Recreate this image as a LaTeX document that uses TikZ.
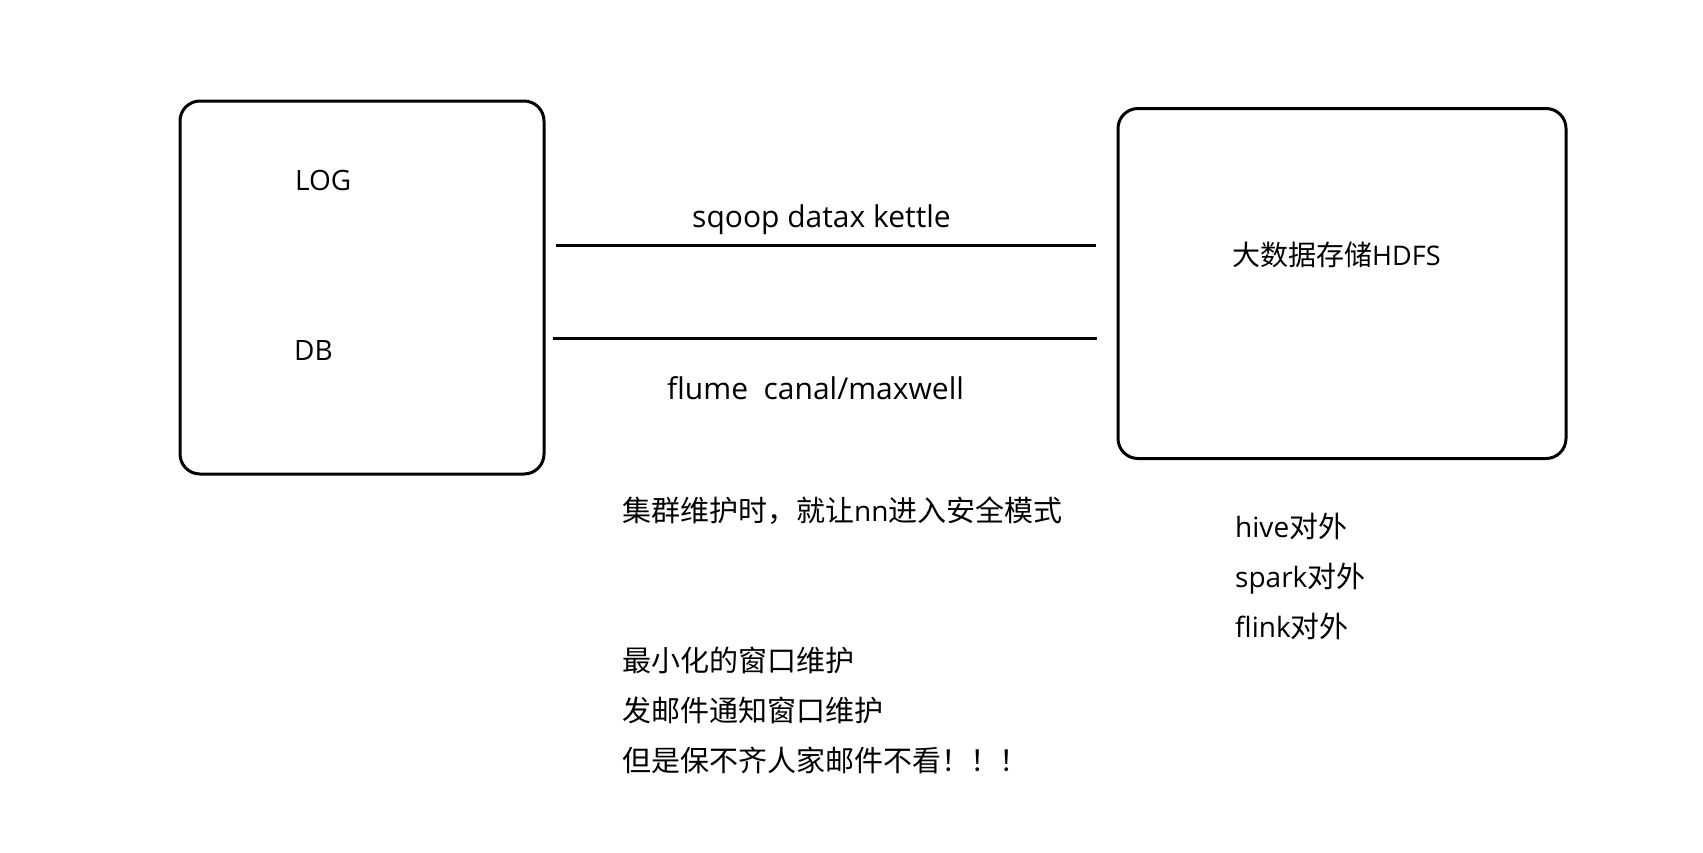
\documentclass[tikz,border=0pt]{standalone}
\usepackage{fontspec}
\setmainfont{Open Sans}
\newfontfamily\cjkfont{Noto Sans CJK SC}
\newcommand{\zh}[1]{{\cjkfont #1}}
\begin{document}
\begin{tikzpicture}[x=1pt,y=-1pt,
  box/.style={draw, line width=3pt, rounded corners=20pt, inner sep=0pt},
  lbl/.style={anchor=base west, inner sep=0pt, font=\fontsize{28}{34}\selectfont},
  big/.style={font=\fontsize{30}{36}\selectfont},
  small/.style={font=\fontsize{27}{33}\selectfont},
  link/.style={line width=3pt}]
\useasboundingbox[fill=white] (0,0) rectangle (1703,852);
% boxes
\node[box, minimum width=364pt, minimum height=373pt] (src) at (362,287.5) {};
\node[box, minimum width=448pt, minimum height=350pt] (hdfs) at (1342,283.5) {};
% connector end points
\coordinate (l1a) at (556,245);
\coordinate (l1b) at (1096,245);
\coordinate (l2a) at (553,338);
\coordinate (l2b) at (1097,338);
\draw[link] (l1a) -- (l1b);
\draw[link] (l2a) -- (l2b);
% labels
\node[lbl] (log) at (295,190) {LOG};
\node[lbl] (db) at (294,360) {DB};
\node[lbl, big] (sqoop) at (692,227) {sqoop datax kettle};
\node[lbl, big] (flume) at (667,399) {flume\ \ canal/maxwell};
\node[lbl, small] (hd) at (1232,265) {\zh{\fontsize{28}{34}\selectfont 大数据存储}HDFS};
\node[lbl] (safe) at (622,521) {\zh{\fontsize{29}{34}\selectfont 集群维护时，就让}nn\zh{\fontsize{29}{34}\selectfont 进入安全模式}};
\node[lbl] (hive) at (1235,537) {hive\zh{\fontsize{29}{34}\selectfont 对外}};
\node[lbl] (spark) at (1235,587) {spark\zh{\fontsize{29}{34}\selectfont 对外}};
\node[lbl] (flink) at (1235,637) {flink\zh{\fontsize{29}{34}\selectfont 对外}};
\node[lbl] (n1) at (622,671) {\zh{\fontsize{29}{34}\selectfont 最小化的窗口维护}};
\node[lbl] (n2) at (622,721) {\zh{\fontsize{29}{34}\selectfont 发邮件通知窗口维护}};
\node[lbl] (n3) at (622,771) {\zh{\fontsize{29}{34}\selectfont 但是保不齐人家邮件不看！！！}};
\end{tikzpicture}
\end{document}
